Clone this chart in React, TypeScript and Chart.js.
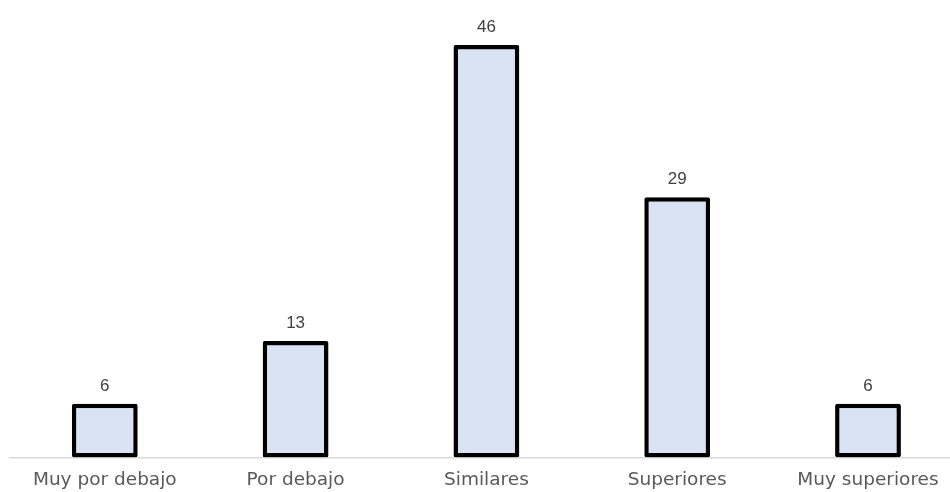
import React, { useEffect, useRef } from "react";
import { Chart, registerables } from "chart.js";

Chart.register(...registerables);

const categories = ["Muy por debajo", "Por debajo", "Similares", "Superiores", "Muy superiores"];
const values = [6, 13, 46, 29, 6];
const valueLabels = ["6", "13", "46", "29", "6"];

const dataLabelPlugin = {
  id: "dataLabels",
  afterDatasetsDraw(chart: any) {
    const ctx = chart.ctx;
    const meta = chart.getDatasetMeta(0);
    ctx.save();
    ctx.font = '17px "Liberation Sans", Arial, sans-serif';
    ctx.fillStyle = "#404040";
    ctx.textAlign = "center";
    ctx.textBaseline = "alphabetic";
    meta.data.forEach((bar: any, i: number) => {
      ctx.fillText(valueLabels[i], bar.x, bar.y - 13);
    });
    ctx.restore();
  },
};

export default function App() {
  const ref = useRef<HTMLCanvasElement | null>(null);
  useEffect(() => {
    document.body.style.overflow = "hidden";
    const chart = new Chart(ref.current!, {
      type: "bar",
      data: {
        labels: categories,
        datasets: [
          {
            data: values,
            backgroundColor: "#DAE3F3",
            borderColor: "#000000",
            borderWidth: 4.5,
            borderSkipped: false,
            borderRadius: 2,
            categoryPercentage: 1,
            barPercentage: 0.345,
          },
        ],
      },
      options: {
        animation: false,
        responsive: true,
        maintainAspectRatio: false,
        layout: { padding: { top: 9, bottom: 2.3, left: 9.4, right: 9.6 } },
        plugins: { legend: { display: false }, tooltip: { enabled: false } },
        scales: {
          x: {
            grid: { display: false, drawTicks: false },
            border: { display: true, color: "#d9d9d9", width: 1.5 },
            ticks: {
              color: "#595959",
              padding: 12,
              maxRotation: 0,
              autoSkip: false,
              font: { family: '"DejaVu Sans", sans-serif', size: 18.5 },
            },
          },
          y: { display: false, min: 0, max: 50 },
        },
      },
      plugins: [dataLabelPlugin],
    });
    return () => chart.destroy();
  }, []);
  return (
    <div style={{ position: "absolute", left: 0, top: 0, width: 950, height: 492, overflow: "hidden" }}>
      <div style={{ position: "relative", width: 973, height: 506 }}>
        <canvas ref={ref} />
      </div>
    </div>
  );
}
